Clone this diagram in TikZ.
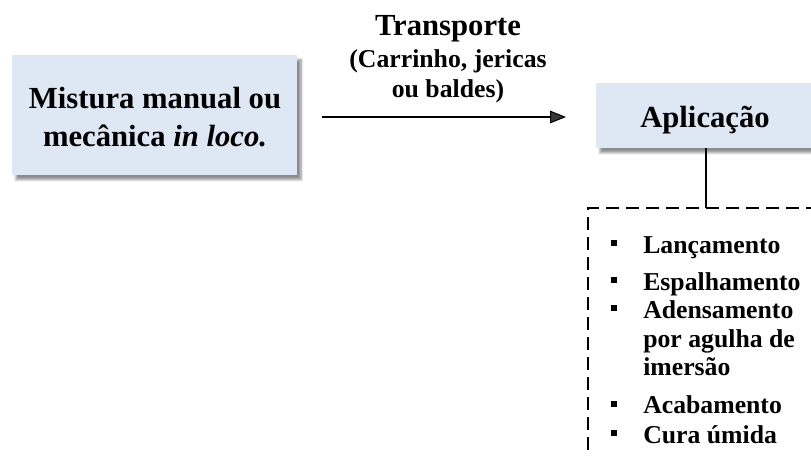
\documentclass[tikz,border=0pt]{standalone}
\usepackage{fontspec}
\setmainfont{Liberation Serif}
\usetikzlibrary{arrows.meta,shadows.blur}
\definecolor{boxblue}{HTML}{DEE8F4}
\tikzset{
  stagebox/.style={fill=boxblue, draw=none,
    blur shadow={shadow xshift=3pt, shadow yshift=-3.5pt, shadow blur steps=6, shadow opacity=45}},
  bigtxt/.style={font=\fontsize{23}{28}\selectfont\bfseries, inner sep=0pt},
  midtxt/.style={font=\fontsize{19.3}{24}\selectfont\bfseries, inner sep=0pt},
  itemtxt/.style={font=\fontsize{19.3}{24}\selectfont\bfseries, inner sep=0pt, anchor=base west},
  bulletmark/.style={fill=black, minimum size=5pt, inner sep=0pt},
  dashedframe/.style={line width=1.4pt, dash pattern=on 10pt off 5pt},
}
\begin{document}
\begin{tikzpicture}[x=0.75pt,y=-0.75pt]
\useasboundingbox (0,0) rectangle (811,455);

% stage boxes
\path[stagebox] (12,55) rectangle (297,175);
\path[stagebox] (596,83) rectangle (830,148);
\node (mixA) [bigtxt, anchor=base] at (155,108) {Mistura manual ou};
\node (mixB) [bigtxt, anchor=base] at (155,146) {mecânica \textit{in loco.}};
\node (app) [bigtxt, anchor=base] at (705,127) {Aplicação};
\coordinate (appbottom) at (706,148);

% transport arrow and its caption
\coordinate (trstart) at (322,117);
\coordinate (trend) at (566,117);
\draw[line width=0.8pt, -{Triangle[length=12pt,width=9.5pt]}] (trstart) -- (trend);
\node (tr1) [bigtxt, anchor=base] at (448,35) {Transporte};
\node (tr2) [midtxt, anchor=base] at (448,67) {(Carrinho, jericas};
\node (tr3) [midtxt, anchor=base] at (448,97) {ou baldes)};

% dashed frame with the steps of the application
\coordinate (frametop) at (706,208);
\draw[dashedframe] (588,470) -- (588,208) -- (830,208);
\draw[line width=0.8pt] (appbottom) -- (frametop);

\node (s1) [itemtxt] at (643,253) {Lançamento};
\node (s2) [itemtxt] at (643,290) {Espalhamento};
\node (s3) [itemtxt] at (643,318) {Adensamento};
\node (s3b) [itemtxt] at (643,347) {por agulha de};
\node (s3c) [itemtxt] at (643,375) {imersão};
\node (s4) [itemtxt] at (643,413) {Acabamento};
\node (s5) [itemtxt] at (643,443) {Cura úmida};
\foreach \n/\y in {b1/243, b2/280, b3/308, b4/404, b5/433}
  \node (\n) [bulletmark] at (614,\y) {};
\end{tikzpicture}
\end{document}
